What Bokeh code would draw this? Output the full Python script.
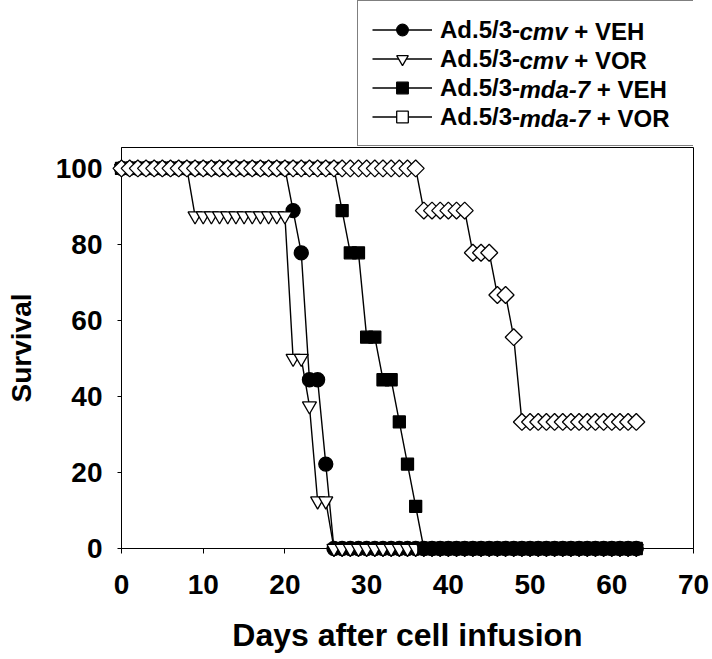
from bokeh.plotting import figure
from bokeh.layouts import column
from bokeh.models import Legend, LegendItem, Range1d, FixedTicker, Label
from bokeh.embed import file_html
from bokeh.resources import INLINE
import numpy as np

# ---- data ----
days = list(range(0, 64))
cmv_veh = [100] * 21 + [88.9, 77.8, 44.4, 44.4, 22.2] + [0] * 38
cmv_vor = [100] * 9 + [87.5] * 12 + [50, 50, 37.5, 12.5, 12.5] + [0] * 38
mda_veh = [100] * 27 + [88.9, 77.8, 77.8, 55.6, 55.6, 44.4, 44.4, 33.3, 22.2, 11.1] + [0] * 27
mda_vor = [100] * 37 + [88.9] * 6 + [77.8] * 3 + [66.7] * 2 + [55.6] + [33.3] * 15

# legend labels split into (upright, italic, upright) pieces
label_parts = [("Ad.5/3-", "cmv", "+ VEH"),
               ("Ad.5/3-", "cmv", "+ VOR"),
               ("Ad.5/3-", "mda-7", "+ VEH"),
               ("Ad.5/3-", "mda-7", "+ VOR")]
x_ticks = [0, 10, 20, 30, 40, 50, 60, 70]
y_ticks = [0, 20, 40, 60, 80, 100]
x_title = "Days after cell infusion"
y_title = "Survival"

FONT = "Liberation Sans"
W = 712
TOP_H = 147
MAIN_H = 659 - TOP_H
LEFT, RIGHT = 121, 19

styles = [
    dict(marker="circle", size=14, fill_color="black", angle=0.0),
    dict(marker="inverted_triangle", size=14, fill_color="white", angle=0.0),
    dict(marker="square", size=12, fill_color="black", angle=0.0),
    dict(marker="square", size=12, fill_color="white", angle=np.pi / 4),
]
data = [cmv_veh, cmv_vor, mda_veh, mda_vor]

# ---------------- main plot ----------------
p = figure(width=W, height=MAIN_H, output_backend="svg", toolbar_location=None,
           x_range=Range1d(0, 70), y_range=Range1d(0, 105.5),
           min_border_left=LEFT, min_border_right=RIGHT, min_border_top=0,
           min_border_bottom=111)
p.grid.visible = False
p.outline_line_color = "black"
p.outline_line_width = 1
p.background_fill_color = "white"
p.border_fill_color = "white"

for ys, st in zip(data, styles):
    ln = p.line(days, ys, line_color="black", line_width=1.4)
    sc = p.scatter(days, ys, marker=st["marker"], size=st["size"], angle=st["angle"],
                   fill_color=st["fill_color"], line_color="black", line_width=1.3)
    ln.level = "overlay"
    sc.level = "overlay"

for ax in (p.xaxis, p.yaxis):
    ax.axis_line_color = "black"
    ax.axis_line_width = 1
    ax.major_tick_line_color = "black"
    ax.major_tick_in = 0
    ax.minor_tick_line_color = None
    ax.major_label_text_font = FONT
    ax.major_label_text_font_style = "bold"
    ax.major_label_text_font_size = "28px"
    ax.major_label_text_color = "black"
    ax.axis_label_text_font = FONT
    ax.axis_label_text_font_style = "bold"
    ax.axis_label_text_color = "black"

p.xaxis.ticker = FixedTicker(ticks=x_ticks)
p.yaxis.ticker = FixedTicker(ticks=y_ticks)
p.xaxis.major_tick_out = 5
p.yaxis.major_tick_out = 4
p.xaxis.major_label_standoff = 21
p.yaxis.major_label_standoff = 15
p.xaxis.axis_label = x_title
p.yaxis.axis_label = y_title
p.xaxis.axis_label_text_font_size = "32px"
p.yaxis.axis_label_text_font_size = "28px"
p.xaxis.axis_label_standoff = 20
p.yaxis.axis_label_standoff = 16

# ---------------- legend strip above the plot ----------------
# strip frame spans the same pixels as the main frame horizontally; its data
# units equal screen pixels, so the legend texts can be laid out precisely.
top = figure(width=W, height=TOP_H, output_backend="svg", toolbar_location=None,
             x_range=Range1d(LEFT, W - RIGHT), y_range=Range1d(0, TOP_H),
             x_axis_location=None, y_axis_location=None,
             min_border_left=LEFT, min_border_right=RIGHT,
             min_border_top=0, min_border_bottom=0)
top.grid.visible = False
top.outline_line_color = None
top.background_fill_color = "white"
top.border_fill_color = "white"

items = []
for ys, st, parts in zip(data, styles, label_parts):
    ln = top.line(days, ys, line_color="black", line_width=1.4, visible=False)
    sc = top.scatter(days, ys, marker=st["marker"], size=st["size"], angle=st["angle"],
                     fill_color=st["fill_color"], line_color="black", line_width=1.3,
                     visible=False)
    items.append(LegendItem(label=parts[0], renderers=[ln, sc]))

LEG_LEFT, LEG_PAD, ROW_H, GW, STAND = 357, 14, 29, 60, 8
LEG_W = 335
FS = 24
LEG_H = 2 * LEG_PAD + 4 * ROW_H
legend = Legend(items=items, location=(LEG_LEFT - LEFT, 1),
                margin=0, padding=LEG_PAD, spacing=0, glyph_width=GW, glyph_height=ROW_H,
                label_standoff=STAND, label_width=LEG_W - 2 * LEG_PAD - GW - STAND,
                label_text_font=FONT, label_text_font_style="bold",
                label_text_font_size=f"{FS}px", label_text_color="black",
                border_line_color="black", border_line_width=1,
                background_fill_color=None, background_fill_alpha=0,
                inactive_fill_alpha=0)
top.add_layout(legend, "center")

# remaining legend text pieces (italic gene names), after each legend label
em = {"Ad.5/3-": 3.334, "cmv": 2.001, "mda-7": 2.945, " ": 0.278}
leg_top = 1 + LEG_H                      # strip coordinates, y up
text_x0 = LEG_LEFT + LEG_PAD + GW + STAND
for i, (a, b, c) in enumerate(label_parts):
    yc = leg_top - LEG_PAD - ROW_H * (i + 0.5)
    xb = text_x0 + em[a] * FS
    xc = xb + (em[b] + em[" "]) * FS
    for txt, xp, style in ((b, xb, "bold italic"), (c, xc, "bold")):
        top.add_layout(Label(x=xp, y=yc, text=txt, text_font=FONT,
                             text_font_style=style, text_font_size=f"{FS}px",
                             text_baseline="middle", text_align="left",
                             text_color="black"))

layout = column(top, p, spacing=0)
open("out.html", "w").write(file_html(layout, INLINE))
